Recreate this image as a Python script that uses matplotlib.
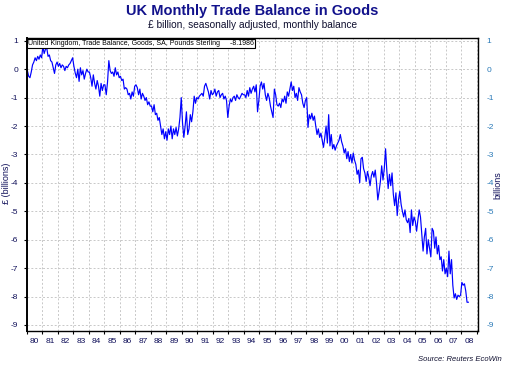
import numpy as np
import matplotlib
matplotlib.use("Agg")
import matplotlib.pyplot as plt
from matplotlib.ticker import FixedLocator, NullFormatter

plt.rcParams['font.family'] = ['Liberation Sans', 'DejaVu Sans']
plt.rcParams['axes.unicode_minus'] = False

# UK trade balance in goods, GBP billion, monthly, Jan 1980 - Jun 2008
start_year = 1980
balance = [
    -0.05, -0.25, -0.3, -0.1, 0.15, 0.25, 0.4, 0.3, 0.45, 0.35, 0.5, 0.4,        # 1980
    0.8, 0.55, 0.7, 0.75, 0.45, 0.5, 0.3, 0.25, 0.05, -0.15, 0.15, 0.25,         # 1981
    0.1, 0.2, 0.05, 0.15, 0.1, -0.05, 0.1, 0.05, 0.15, 0.2, 0.3, 0.4,            # 1982
    0.1, -0.13, -0.3, 0.0, -0.43, 0.05, -0.2, -0.05, -0.35, -0.15, 0.0, -0.1,    # 1983
    -0.1, -0.3, -0.6, -0.2, -0.5, -0.7, -0.4, -0.6, -0.95, -0.5, -0.75, -0.55,   # 1984
    -0.55, -0.9, -0.45, 0.3, -0.05, -0.15, -0.1, -0.25, 0.05, -0.2, -0.1, -0.3,  # 1985
    -0.25, -0.4, -0.35, -0.7, -0.65, -0.7, -0.9, -0.85, -1.05, -0.8, -0.95, -0.6,  # 1986
    -0.55, -0.65, -0.9, -0.7, -1.05, -0.85, -0.95, -1.1, -1.0, -1.25, -1.15, -1.3,  # 1987
    -1.3, -1.5, -1.25, -1.6, -1.55, -1.8, -1.7, -2.0, -2.3, -2.1, -2.45, -2.2,   # 1988
    -2.5, -2.1, -2.3, -2.0, -2.45, -2.1, -2.3, -2.05, -2.35, -2.1, -1.7, -1.0,   # 1989
    -1.9, -2.4, -2.0, -1.5, -2.3, -2.1, -1.6, -1.85, -1.5, -0.95, -1.2, -1.0,    # 1990
    -1.05, -0.95, -0.9, -0.85, -0.95, -0.6, -0.5, -0.65, -0.8, -1.05, -0.75, -0.9,  # 1991
    -0.85, -0.7, -0.95, -0.8, -0.75, -1.0, -0.9, -0.85, -1.05, -0.95, -1.1, -1.7,  # 1992
    -1.3, -1.05, -1.15, -1.0, -0.95, -1.1, -0.9, -1.0, -1.05, -0.95, -0.85, -0.9,  # 1993
    -0.9, -1.0, -0.75, -0.95, -0.65, -0.85, -0.7, -0.6, -0.8, -0.55, -1.5, -1.1,  # 1994
    -0.6, -0.45, -0.7, -0.5, -0.9, -1.1, -0.85, -1.0, -1.3, -1.5, -1.7, -0.7,    # 1995
    -0.9, -1.25, -1.3, -1.2, -1.35, -1.05, -1.15, -0.95, -1.2, -0.8, -0.95, -0.7,  # 1996
    -0.45, -0.75, -0.6, -1.0, -0.85, -1.1, -0.65, -0.8, -0.9, -1.2, -1.35, -1.1,  # 1997
    -1.0, -2.05, -1.6, -1.75, -1.55, -1.8, -1.65, -2.0, -2.3, -2.1, -2.4, -2.25,  # 1998
    -2.5, -2.75, -2.4, -2.0, -2.6, -1.6, -2.7, -2.3, -2.8, -2.65, -2.85, -2.7,   # 1999
    -2.6, -2.5, -2.3, -2.55, -2.7, -2.95, -2.8, -3.15, -2.9, -3.25, -3.0, -3.3,  # 2000
    -2.95, -3.2, -3.35, -3.7, -3.55, -4.0, -3.15, -3.1, -3.5, -3.65, -3.95, -3.6,  # 2001
    -3.8, -4.1, -3.75, -3.6, -3.8, -3.55, -4.0, -4.6, -4.3, -3.95, -3.4, -3.9,   # 2002
    -3.5, -2.8, -3.6, -4.2, -3.7, -4.1, -3.65, -4.4, -4.8, -4.35, -5.15, -4.6,   # 2003
    -4.3, -4.75, -5.0, -5.2, -4.95, -5.3, -5.4, -5.25, -5.75, -4.95, -5.5, -5.2,  # 2004
    -5.35, -5.7, -5.3, -4.95, -5.2, -5.8, -6.4, -5.9, -5.6, -6.5, -6.0, -6.3,    # 2005
    -6.6, -5.6, -5.7, -6.3, -5.9, -6.5, -6.2, -6.7, -6.6, -7.1, -6.7, -7.2,      # 2006
    -7.0, -7.3, -6.4, -7.2, -6.7, -7.6, -8.05, -7.9, -8.1, -7.95, -8.0, -7.95,   # 2007
    -7.5, -7.6, -7.55, -7.8, -8.2, -8.1986,                                      # 2008
]
year_labels = ['80', '81', '82', '83', '84', '85', '86', '87', '88', '89',
               '90', '91', '92', '93', '94', '95', '96', '97', '98', '99',
               '00', '01', '02', '03', '04', '05', '06', '07', '08']
y_ticks = list(range(-9, 2))
series_name = 'United Kingdom, Trade Balance, Goods, SA, Pounds Sterling'

t = start_year + (np.arange(len(balance)) + 0.5) / 12.0
years = np.arange(start_year, start_year + len(year_labels) + 1)

fig = plt.figure(figsize=(5.05, 3.68), dpi=100)
ax = fig.add_axes([0.0529, 0.1014, 0.8936, 0.7956])

ax.plot(t, balance, color='#0000ff', lw=0.85)

ax.set_xlim(start_year, start_year + 29.08)
ax.set_ylim(-9.2, 1.1)

# year boundaries carry the ticks and grid, labels sit mid-year
ax.xaxis.set_major_locator(FixedLocator(years))
ax.xaxis.set_major_formatter(NullFormatter())
ax.xaxis.set_minor_locator(FixedLocator(years[:-1] + 0.5))
ax.set_xticklabels(year_labels, minor=True)
ax.tick_params(axis='x', which='major', direction='out', length=2.5, width=0.8)
ax.tick_params(axis='x', which='minor', length=0, pad=5, labelsize=6,
               labelcolor='#10105a')

ax.set_yticks(y_ticks)
ax.tick_params(axis='y', direction='out', length=2.5, width=0.8, pad=1.5,
               labelsize=6, labelcolor='#10105a', labelright=True, right=False)
for tk in ax.yaxis.get_major_ticks():
    tk.label2.set_color('#2a7ab8')
    tk.set_pad(3.5)

ax.xaxis.grid(True, which='major', color='#c8c8c8', ls=(0, (2, 2)), lw=0.7)
ax.xaxis.grid(False, which='minor')
ax.yaxis.grid(True, which='major', color='#c8c8c8', ls=(0, (2, 2)), lw=0.7)
for s in ax.spines.values():
    s.set_linewidth(1.0)
ax.spines['left'].set_linewidth(1.4)

# series legend box at the top left
ax.text(0.003, 0.993, series_name + '     -8.1986', transform=ax.transAxes,
        fontsize=5, va='top', ha='left', color='black',
        bbox=dict(boxstyle='square,pad=0.15', fc='white', ec='black', lw=0.8))

fig.text(0.5, 0.97, 'UK Monthly Trade Balance in Goods', ha='center',
         va='center', fontsize=10.5, fontweight='bold', color='#12128c')
fig.text(0.5, 0.932, '£ billion, seasonally adjusted, monthly balance',
         ha='center', va='center', fontsize=7.3, color='#101030')
fig.text(0.012, 0.503, '£ (billions)', rotation=90, ha='center', va='center',
         fontsize=6.5, color='#10105a')
fig.text(0.985, 0.497, 'billions', rotation=90, ha='center', va='center',
         fontsize=6.5, color='#10105a')
fig.text(0.993, 0.022, 'Source: Reuters EcoWin', ha='right', va='center',
         fontsize=5.5, style='italic', color='#101030')

fig.savefig('out.png', dpi=100)
